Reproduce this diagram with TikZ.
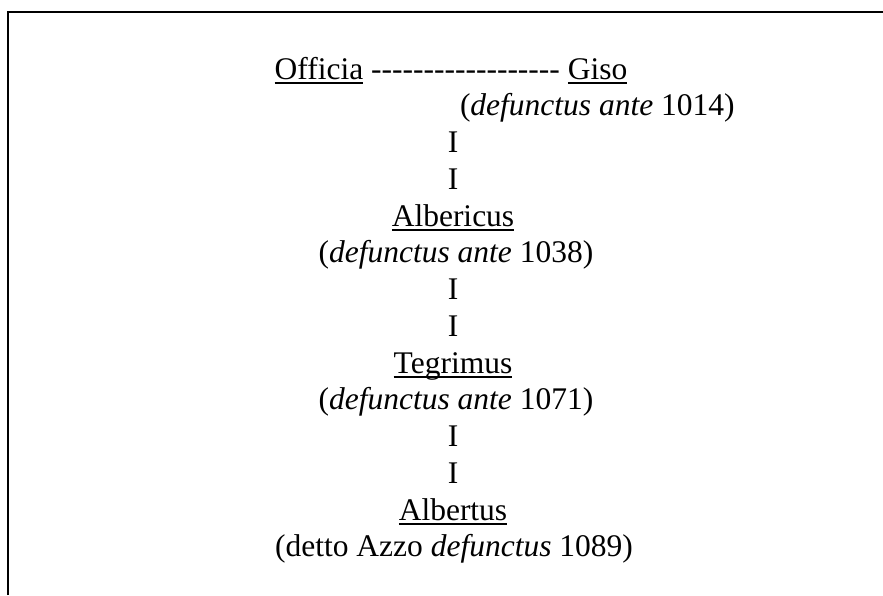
\documentclass[tikz,border=0pt]{standalone}
\usepackage{fontspec}
\setmainfont{Liberation Serif}
% underlined name: a rule just under the baseline, as wide as the word
\newlength\ulw
\newcommand\ulname[1]{\settowidth\ulw{#1}\rlap{\rule[-4.8pt]{\ulw}{1.8pt}}#1}
% a plain hyphen that is never merged into a dash
\newcommand\hy{-\kern0pt}
\begin{document}
\begin{tikzpicture}[x=1pt,y=-1pt,
  gen/.style={inner sep=0pt,outer sep=0pt,anchor=base,font=\fontsize{31.5}{36.75}\selectfont},
  genl/.style={gen,anchor=base west}]
\useasboundingbox (0,0) rectangle (883,595);
% frame, open on the right and at the bottom
\draw[line width=2.2pt] (8,595) -- (8,12) -- (883,12);
% generations, one line every 36.75pt
\node[gen] (officia) at (451,79) {\ulname{Officia} \hy\hy\hy\hy\hy\hy\hy\hy\hy\hy\hy\hy\hy\hy\hy\hy\hy\hy{} \ulname{Giso}};
\node[genl] (gisod) at (460,115.75) {(\textit{defunctus ante} 1014)};
\node[gen] (g1) at (453,152.5) {I};
\node[gen] (g2) at (453,189.25) {I};
\node[gen] (alb) at (453,226) {\ulname{Albericus}};
\node[gen] (albd) at (456,262.75) {(\textit{defunctus ante} 1038)};
\node[gen] (a1) at (453,299.5) {I};
\node[gen] (a2) at (453,336.25) {I};
\node[gen] (teg) at (453,373) {\ulname{Tegrimus}};
\node[gen] (tegd) at (456,409.75) {(\textit{defunctus ante} 1071)};
\node[gen] (t1) at (453,446.5) {I};
\node[gen] (t2) at (453,483.25) {I};
\node[gen] (albt) at (453,520) {\ulname{Albertus}};
\node[gen] (albtd) at (454,556.75) {(detto Azzo \textit{defunctus} 1089)};
\end{tikzpicture}
\end{document}
